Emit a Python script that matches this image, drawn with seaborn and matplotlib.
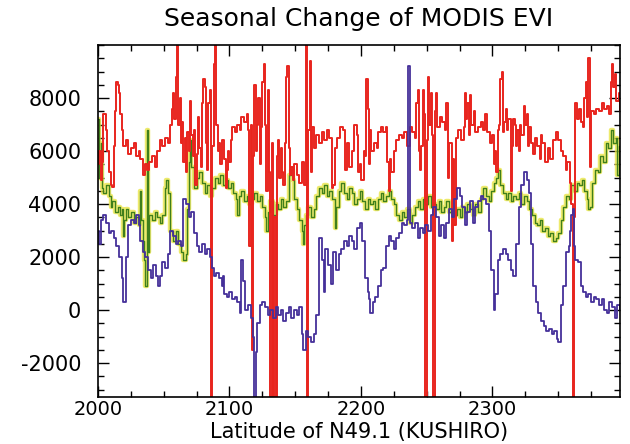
import matplotlib
matplotlib.use("Agg")
import matplotlib.pyplot as plt
import seaborn as sns
import numpy as np
from matplotlib.ticker import MultipleLocator, FixedLocator

# ---------------- data ----------------
red_x = [2000,2001,2002,2003,2004,2006,2007,2008,2010,2011,2012,2013,2014,2015,2016,2017,2018,2019,2021,2023,
         2025,2027,2029,2031,2032,2034,2036,2037,2039,2041,2043,2045,2047,2049,2051,2053,2055,2056,2057,2058,
         2059,2060,2061,2062,2063,2064,2065,2066,2067,2068,2069,2070,2071,2072,2073,2074,2075,2076,2077,2078,
         2079,2080,2081,2082,2083,2084,2085,2086,2087,2088,2089,2090,2091,2092,2093,2094,2096,2097,2098,2099,
         2100,2101,2102,2104,2106,2108,2109,2111,2113,2114,2115,2116,2117,2118,2119,2120,2121,2122,2123,2124,
         2125,2126,2127,2128,2129,2130,2131,2132,2133,2134,2135,2136,2137,2138,2139,2140,2141,2142,2143,2144,
         2145,2146,2147,2148,2149,2151,2153,2155,2157,2158,2159,2160,2161,2162,2163,2164,2166,2168,2170,2172,
         2174,2176,2178,2179,2180,2182,2184,2186,2188,2189,2191,2193,2195,2197,2198,2199,2200,2202,2203,2204,
         2205,2206,2207,2208,2210,2212,2213,2215,2217,2219,2220,2221,2222,2223,2225,2227,2229,2231,2233,2235,
         2237,2239,2241,2242,2243,2244,2245,2246,2247,2248,2249,2250,2251,2252,2253,2254,2255,2256,2257,2258,
         2260,2262,2264,2265,2266,2267,2269,2270,2271,2272,2274,2276,2278,2279,2280,2281,2282,2283,2284,2286,
         2287,2289,2291,2293,2294,2296,2298,2300,2301,2302,2303,2304,2305,2306,2307,2308,2309,2310,2311,2312,
         2314,2315,2316,2317,2318,2319,2320,2321,2322,2324,2325,2326,2327,2328,2329,2331,2332,2334,2336,2337,
         2338,2340,2342,2344,2346,2348,2350,2352,2354,2356,2357,2359,2360,2361,2362,2363,2364,2366,2367,2369,
         2370,2371,2372,2373,2374,2375,2377,2379,2381,2383,2385,2387,2389,2390,2391,2392,2393,2394,2396,2397]
red_y = [5500,6000,4900,5600,7400,6800,6000,5200,4700,4650,6200,7500,8600,8500,8200,7400,6800,6200,6400,5900,
         6100,6300,5800,6000,5700,5100,5500,5300,5600,5800,5400,6000,6400,6200,6500,6300,7000,7600,8200,7200,
         8800,10100,7000,8000,6300,7100,5600,6500,5200,6700,6000,7900,6600,5800,6800,4700,5900,7300,6100,5400,
         7800,8700,8400,6300,5300,7800,8300,-3300,6200,9300,10100,7000,6000,6300,5500,6400,5700,4600,5300,6000,
         5600,6400,6900,6700,7000,6800,7300,7100,7400,6800,2400,7000,-1500,5800,8500,6000,7000,8000,5500,6900,
         8600,9300,7000,4500,8300,5200,-3300,6300,-3300,3500,-3300,5800,6400,5000,6100,5200,4700,6300,8800,9200,
         6100,5100,5400,4900,5500,5100,4800,5600,4700,10100,-3300,6800,9400,5200,6900,6100,6600,6300,6700,6400,
         6800,6500,4600,4700,6100,6500,6900,6800,5300,6300,5400,6000,7000,6600,5200,5500,4900,6000,5800,8700,
         7600,5500,6800,6000,6300,6100,6700,6900,6700,6900,5600,4500,5700,5200,6000,6400,6600,6500,6700,6200,
         6900,6700,6500,7800,8300,6000,5300,6200,8300,7400,-3300,6400,8800,7000,8200,6600,-3300,7500,8200,6900,
         7300,7100,6800,7800,5000,6300,2600,5700,3200,6500,6800,6400,6900,8200,7200,7800,6600,8100,7000,7500,
         6700,6900,7100,6800,7400,6700,6300,6600,5500,6000,5200,6800,7000,8700,9000,6700,7100,7600,6800,7200,
         4500,6200,7200,7000,6200,6800,6000,7000,6600,7700,7000,7400,6200,6900,6300,5900,6500,6200,5700,6600,
         6300,5600,6100,5700,6400,6700,6400,6000,5800,5300,5600,4800,4000,-3300,3500,7800,7200,7600,7100,6900,
         8000,8600,7300,9500,5400,7500,7400,7600,7500,7800,7600,7700,7400,8600,9300,8400,8900,7900,8200,7500]

green_x = [2000,2001,2002,2003,2004,2006,2008,2010,2011,2013,2015,2017,2018,2019,2020,2021,2023,2025,2027,2029,
           2031,2032,2033,2034,2035,2036,2037,2038,2039,2041,2043,2045,2047,2049,2051,2052,2053,2055,2057,2059,
           2061,2063,2065,2067,2068,2069,2070,2071,2073,2075,2077,2079,2081,2083,2085,2087,2089,2091,2093,2095,
           2097,2099,2101,2103,2105,2106,2107,2109,2111,2113,2115,2117,2119,2121,2123,2125,2127,2128,2129,2131,
           2133,2135,2137,2139,2141,2143,2145,2147,2148,2149,2151,2153,2155,2156,2157,2158,2160,2162,2164,2166,
           2168,2170,2172,2174,2176,2178,2180,2181,2183,2185,2187,2189,2191,2193,2195,2197,2199,2201,2203,2205,
           2207,2209,2211,2213,2215,2217,2219,2221,2223,2225,2227,2229,2231,2233,2235,2237,2239,2241,2243,2245,
           2247,2249,2251,2253,2255,2257,2259,2261,2263,2265,2267,2269,2271,2273,2275,2277,2279,2281,2283,2285,
           2287,2289,2291,2293,2295,2297,2299,2301,2303,2304,2306,2308,2310,2312,2314,2316,2318,2320,2322,2324,
           2326,2328,2330,2332,2334,2336,2338,2340,2342,2344,2346,2348,2350,2352,2354,2356,2358,2360,2362,2364,
           2366,2368,2370,2372,2373,2374,2376,2378,2380,2382,2384,2386,2388,2390,2392,2394,2395,2396,2397]
green_y = [7200,5000,6300,4600,4400,4700,4300,3900,4100,3700,3900,3600,3800,2800,3400,3800,3500,3700,3300,3500,
           3200,4500,3400,2600,1900,900,6800,2200,3600,3400,3700,3500,3300,3600,4600,4900,4400,3000,2600,3000,
           2500,2200,1900,2100,3800,5600,6400,5400,4600,5000,5200,4800,4400,4700,4300,4600,5000,4800,5100,4700,
           4900,4600,4800,4400,4200,3600,4300,4500,4100,4300,4000,4200,4400,4100,4300,3900,3500,3000,3700,4100,
           3600,4000,3800,4200,3900,4100,5100,5300,4900,4200,3800,3400,3000,2500,3200,3600,3900,3500,3800,4300,
           4600,4400,4700,4300,4500,4200,3100,3900,4500,4800,4400,4200,4600,4400,4000,4200,4500,4100,3800,4200,
           4000,4100,3800,4200,4400,4100,4300,4500,4200,4000,3600,3400,3700,3500,3800,3300,3600,3900,4100,3800,
           4200,4000,4300,3900,4000,3800,4100,3700,3900,4100,3700,3900,3600,3800,3500,3900,3700,4000,3800,3600,
           4000,3700,4200,4600,4300,4100,4500,4800,5000,5300,4700,4400,4200,4400,4100,4300,4200,4400,4000,4300,
           4100,3800,3600,3300,3200,3400,3000,3100,2800,2900,2600,2700,2900,3400,3900,4300,4200,4700,4500,4800,
           4700,4900,4500,4200,3800,3900,4800,5300,5200,5800,5600,6300,6100,6800,6300,6500,5100,6200,6000]

blue_x = [2000,2001,2002,2004,2006,2008,2010,2012,2014,2016,2018,2019,2021,2023,2025,2027,2029,2031,2032,2034,
          2036,2038,2040,2042,2044,2046,2047,2049,2051,2053,2055,2057,2059,2061,2063,2065,2067,2069,2071,2073,
          2075,2077,2079,2081,2083,2085,2087,2088,2090,2092,2094,2095,2096,2098,2100,2102,2104,2106,2108,2109,
          2110,2112,2114,2116,2118,2119,2120,2121,2123,2125,2127,2129,2131,2133,2135,2137,2139,2141,2143,2145,
          2147,2149,2151,2153,2155,2156,2158,2160,2162,2164,2166,2168,2170,2172,2173,2175,2177,2179,2181,2183,
          2185,2187,2189,2191,2193,2195,2197,2199,2201,2203,2205,2206,2207,2209,2211,2213,2215,2217,2219,2221,
          2223,2225,2227,2229,2231,2233,2235,2236,2237,2239,2241,2243,2245,2247,2249,2251,2253,2255,2257,2259,
          2261,2263,2265,2267,2269,2271,2273,2275,2277,2279,2281,2283,2285,2287,2289,2291,2293,2295,2297,2299,
          2301,2302,2304,2306,2308,2310,2312,2314,2316,2318,2320,2322,2324,2326,2328,2329,2331,2333,2335,2337,
          2339,2341,2343,2345,2347,2349,2350,2352,2354,2356,2358,2359,2360,2361,2362,2363,2365,2367,2369,2371,
          2373,2375,2377,2379,2381,2383,2385,2387,2389,2391,2393,2395,2397]
blue_y = [3000,2500,3400,3600,3300,2900,3000,2700,2400,2000,1200,300,2000,3200,3400,3300,3600,3200,2600,2200,
          2000,1500,1200,1700,1300,900,1300,1800,1600,2100,3000,2800,2500,2600,2400,4200,4000,3500,3700,2900,
          2400,2200,2500,2100,2300,2000,1600,1300,1400,1200,900,1300,600,500,700,400,500,300,-100,1900,
          1100,0,200,-300,-1000,-3300,-1600,-500,200,300,100,-200,0,-300,100,-200,0,-400,-100,100,
          -300,0,-200,100,-900,-1500,-800,-1000,-1200,-900,-200,2700,1900,700,2300,1700,1000,2200,1500,2100,
          2300,2600,2400,2800,2600,2300,3100,3300,2600,1200,700,400,-100,300,500,900,1500,1600,2400,2800,
          2600,2300,2700,2900,3300,3200,3400,9200,3300,3100,3300,2700,3100,2900,3200,3000,3600,3900,3500,2800,
          3200,2700,3300,3800,3500,4200,4600,4300,3900,3200,3700,4100,3300,3900,4100,4300,4200,4000,3000,1500,
          0,600,1900,2100,2300,2100,1900,1500,1300,2500,3900,4700,5200,4900,4400,2500,900,300,-100,-400,
          -600,-800,-700,-900,-800,-1100,-1200,200,900,2200,2400,3000,3600,3800,2400,1900,1800,900,700,500,
          600,300,500,400,200,400,0,-100,300,100,-300,200,0]

title = "Seasonal Change of MODIS EVI"
xlabel = "Latitude of N49.1 (KUSHIRO)"
xticks = [2000, 2100, 2200, 2300]
yticks = [-2000, 0, 2000, 4000, 6000, 8000]

# ---------------- drawing ----------------
sns.set_style("white")
plt.rcParams['font.family'] = ['DejaVu Sans']
plt.rcParams['text.color'] = 'black'
plt.rcParams['axes.labelcolor'] = 'black'
plt.rcParams['xtick.color'] = 'black'
plt.rcParams['ytick.color'] = 'black'

fig = plt.figure(figsize=(6.3, 4.44), dpi=100)
ax = fig.add_axes([98/630, 1 - 397/444, (620 - 98)/630, (397 - 45)/444])

common = dict(estimator=None, sort=False, drawstyle='steps-post', ax=ax, legend=False)
# green series with a yellow halo (as in the scanned original)
sns.lineplot(x=green_x, y=green_y, color='#e8e43c', linewidth=3.2, alpha=0.75, **common)
sns.lineplot(x=green_x, y=green_y, color='#3f7f1c', linewidth=1.0, **common)
sns.lineplot(x=red_x, y=red_y, color='#e8251e', linewidth=1.4, **common)
sns.lineplot(x=blue_x, y=blue_y, color='#45309a', linewidth=1.3, **common)

ax.set_xlim(2000, 2397)
ax.set_ylim(-3280, 10000)

ax.xaxis.set_major_locator(FixedLocator(xticks))
ax.xaxis.set_minor_locator(MultipleLocator(25))
ax.yaxis.set_major_locator(FixedLocator(yticks))
ax.yaxis.set_minor_locator(MultipleLocator(500))
ax.set_xticklabels([str(v) for v in xticks])
ax.set_yticklabels([str(v) for v in yticks])

ax.tick_params(which='both', direction='in', top=True, right=True, bottom=True, left=True,
               color='black', width=1.0, labelcolor='black')
ax.tick_params(which='major', length=8, labelsize=15)
ax.tick_params(axis='y', which='major', pad=12)
ax.tick_params(axis='x', which='major', pad=2, labelsize=14)
ax.tick_params(which='minor', length=4)
for s in ax.spines.values():
    s.set_color('black')
    s.set_linewidth(1.2)

ax.set_xlabel('')
ax.set_ylabel('')
fig.text(359/630, 1 - 432/444, xlabel, ha='center', va='center', fontsize=15, color='black')
fig.text(359/630, 1 - 19/444, title, ha='center', va='center', fontsize=18, color='black')

fig.savefig('out.png', dpi=100, facecolor='white')
